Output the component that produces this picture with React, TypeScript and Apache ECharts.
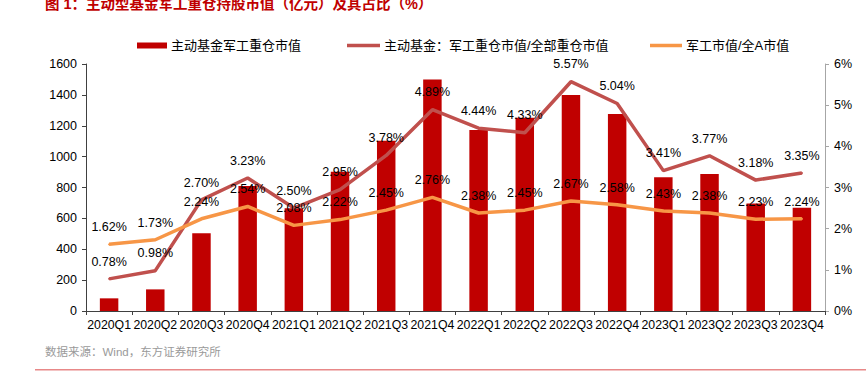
import React, { useEffect, useRef } from "react";
import * as echarts from "echarts";

const categories = [
  "2020Q1", "2020Q2", "2020Q3", "2020Q4",
  "2021Q1", "2021Q2", "2021Q3", "2021Q4",
  "2022Q1", "2022Q2", "2022Q3", "2022Q4",
  "2023Q1", "2023Q2", "2023Q3", "2023Q4",
];
const barValues = [82, 140, 503, 810, 665, 902, 1103, 1500, 1172, 1252, 1399, 1276, 866, 887, 697, 669];
const fundRatio = [0.78, 0.98, 2.70, 3.23, 2.50, 2.95, 3.78, 4.89, 4.44, 4.33, 5.57, 5.04, 3.41, 3.77, 3.18, 3.35];
const marketRatio = [1.62, 1.73, 2.24, 2.54, 2.08, 2.22, 2.45, 2.76, 2.38, 2.45, 2.67, 2.58, 2.43, 2.38, 2.23, 2.24];
const leftTicks = { min: 0, max: 1600, interval: 200 };
const rightTicks = { min: 0, max: 6, interval: 1 };

const seriesNames = ["主动基金军工重仓市值", "主动基金：军工重仓市值/全部重仓市值", "军工市值/全A市值"];
const titleText = "图 1：主动型基金军工重仓持股市值（亿元）及其占比（%）";
const sourceText = "数据来源：Wind，东方证券研究所";

const FONT = '"Liberation Sans", Arial, "Noto Sans CJK SC", sans-serif';

export default function App() {
  const ref = useRef<HTMLDivElement>(null);
  useEffect(() => {
    document.body.style.margin = "0";
    const chart = echarts.init(ref.current!, null, { renderer: "svg" });
    const legendText = { fontSize: 13, color: "#000", fontFamily: FONT, padding: [0, 0, 0, -1] };
    const pctLabel = {
      show: true, position: "top", distance: 10, fontSize: 12.5, color: "#000",
      fontFamily: FONT,
      formatter: (p: any) => p.value.toFixed(2) + "%",
    };
    chart.setOption({
      animation: false,
      backgroundColor: "#fff",
      textStyle: { fontFamily: FONT },
      graphic: [
        {
          type: "text",
          left: 45,
          top: -3,
          style: { text: titleText, fill: "#C00000", font: `bold 14.5px ${FONT}` },
        },
        {
          type: "text",
          left: 45,
          top: 346,
          style: { text: sourceText, fill: "#9a9a9a", font: `11.5px ${FONT}` },
        },
        {
          type: "rect",
          shape: { x: 35, y: 369, width: 831, height: 1.5 },
          style: { fill: "#E88888" },
        },
      ],
      legend: [
        {
          left: 137, top: 39, data: [seriesNames[0]], icon: "rect",
          itemWidth: 30, itemHeight: 6, textStyle: legendText, padding: 0,
        },
        {
          left: 347, top: 39, data: [seriesNames[1]], icon: "rect",
          itemWidth: 33, itemHeight: 3.5, textStyle: legendText, padding: 0,
        },
        {
          left: 650, top: 39, data: [seriesNames[2]], icon: "rect",
          itemWidth: 32, itemHeight: 3.5, textStyle: legendText, padding: 0,
        },
      ],
      grid: { left: 86, right: 41, top: 64, bottom: 64, containLabel: false },
      xAxis: {
        type: "category",
        data: categories,
        boundaryGap: true,
        axisLine: { lineStyle: { color: "#404040" } },
        axisTick: { show: true, alignWithLabel: false, length: 4, lineStyle: { color: "#404040" } },
        axisLabel: { interval: 0, fontSize: 12.3, color: "#000", margin: 8, fontFamily: FONT },
      },
      yAxis: [
        {
          type: "value",
          min: leftTicks.min, max: leftTicks.max, interval: leftTicks.interval,
          axisLine: { show: true, lineStyle: { color: "#404040" } },
          axisTick: { show: true, length: 4, lineStyle: { color: "#404040" } },
          splitLine: { show: false },
          axisLabel: {
            fontSize: 12.5, color: "#000", margin: 9, fontFamily: FONT,
            formatter: (v: number) => String(v),
          },
        },
        {
          type: "value",
          min: rightTicks.min, max: rightTicks.max, interval: rightTicks.interval,
          position: "right",
          axisLine: { show: true, lineStyle: { color: "#a6a6a6" } },
          axisTick: { show: true, length: 4, lineStyle: { color: "#a6a6a6" } },
          splitLine: { show: false },
          axisLabel: { fontSize: 12.5, color: "#000", margin: 9, formatter: "{value}%", fontFamily: FONT },
        },
      ],
      series: [
        {
          name: seriesNames[0],
          type: "bar",
          data: barValues,
          barWidth: "40%",
          itemStyle: { color: "#C00000" },
          yAxisIndex: 0,
        },
        {
          name: seriesNames[1],
          type: "line",
          data: fundRatio,
          yAxisIndex: 1,
          symbol: "circle",
          symbolSize: 2,
          showSymbol: true,
          lineStyle: { color: "#C0504D", width: 3.5 },
          itemStyle: { color: "#C0504D" },
          z: 3,
          label: pctLabel,
        },
        {
          name: seriesNames[2],
          type: "line",
          data: marketRatio,
          yAxisIndex: 1,
          symbol: "circle",
          symbolSize: 2,
          showSymbol: true,
          lineStyle: { color: "#F79646", width: 3.5 },
          itemStyle: { color: "#F79646" },
          z: 4,
          label: pctLabel,
        },
      ],
    });
    return () => chart.dispose();
  }, []);
  return <div ref={ref} style={{ width: 866, height: 375 }} />;
}
